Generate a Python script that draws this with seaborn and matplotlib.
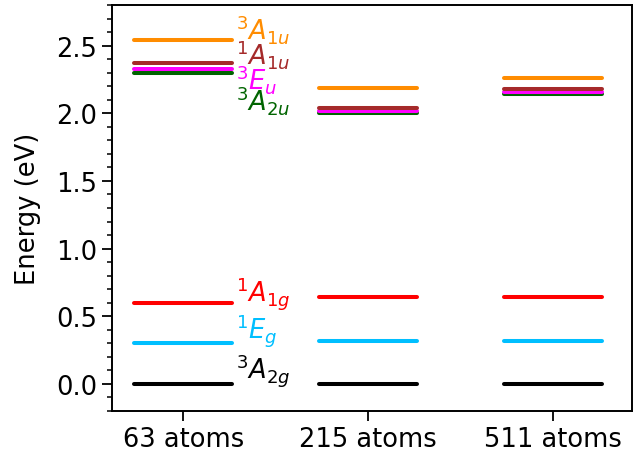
import pandas as pd
import seaborn as sns
import matplotlib.pyplot as plt
from matplotlib.ticker import AutoMinorLocator

systems = ['63 atoms', '215 atoms', '511 atoms']
states = ['3A2g', '1Eg', '1A1g', '3A2u', '3Eu', '1A1u', '3A1u']
labels = [r'$^3A_{2g}$', r'$^1E_g$', r'$^1A_{1g}$', r'$^3A_{2u}$',
          r'$^3E_u$', r'$^1A_{1u}$', r'$^3A_{1u}$']
colors = ['black', 'deepskyblue', 'red', 'darkgreen', 'magenta', 'brown', 'darkorange']

# energias (eV) por sistema
e_63 = [0.0, 0.305, 0.60, 2.298, 2.325, 2.369, 2.544]
e_215 = [0.0, 0.32, 0.645, 2.00, 2.015, 2.04, 2.185]
e_511 = [0.0, 0.318, 0.642, 2.145, 2.16, 2.18, 2.263]

# linha de base dos rótulos (só no primeiro sistema)
label_y = [0.05, 0.345, 0.615, 2.025, 2.18, 2.365, 2.55]

sns.set_style('ticks', {'axes.edgecolor': 'black', 'text.color': 'black',
                        'xtick.color': 'black', 'ytick.color': 'black',
                        'axes.labelcolor': 'black'})
plt.rcParams['font.family'] = ['DejaVu Sans']

rows = []
for i, energias in enumerate([e_63, e_215, e_511]):
    for s, e in zip(states, energias):
        rows.append({'x': i - 0.264, 'E': e, 'state': s, 'seg': f'{i}_{s}'})
        rows.append({'x': i + 0.264, 'E': e, 'state': s, 'seg': f'{i}_{s}'})
df = pd.DataFrame(rows)

fig, ax = plt.subplots(figsize=(6.34, 4.56), dpi=100)
sns.lineplot(data=df, x='x', y='E', hue='state', units='seg', estimator=None,
             palette=dict(zip(states, colors)), linewidth=2.9, legend=False, ax=ax)

for lab, y, c in zip(labels, label_y, colors):
    ax.text(0.283, y, lab, color=c, fontsize=18.5, va='baseline', ha='left')

ax.set_xticks(range(len(systems)))
ax.set_xticklabels(systems, fontsize=18.5)
ax.set_xlim(-0.385, 2.425)
ax.set_ylim(-0.2, 2.8)
ax.yaxis.set_minor_locator(AutoMinorLocator(5))
ax.tick_params(axis='y', labelsize=18.5)
ax.tick_params(which='major', length=7, width=1.3)
ax.tick_params(which='minor', length=3.8, width=1.1)
ax.set_xlabel('')
ax.set_ylabel('Energy (eV)', fontsize=18.5, labelpad=11)
for sp in ax.spines.values():
    sp.set_visible(True)
    sp.set_linewidth(1.4)

fig.subplots_adjust(left=112/634, right=632/634, top=1-6/456, bottom=1-412/456)
plt.savefig('out.png', dpi=100)
